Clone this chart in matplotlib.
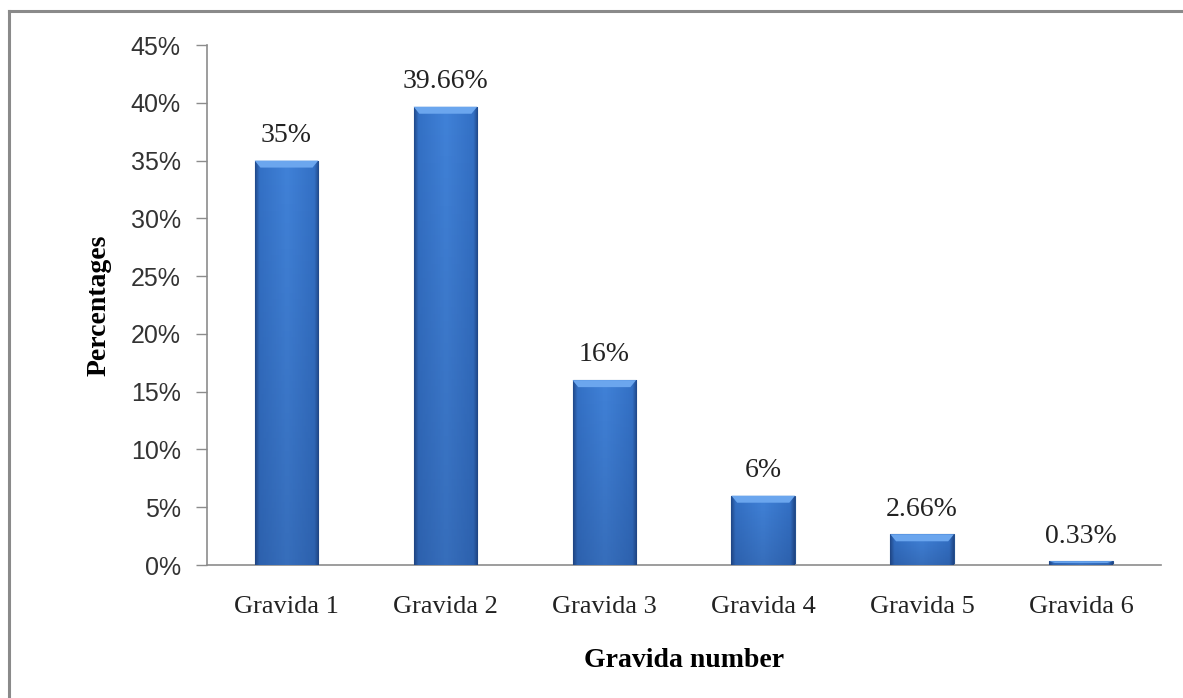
import numpy as np
import matplotlib.pyplot as plt
from matplotlib.patches import Polygon
from matplotlib.lines import Line2D
from matplotlib.colors import LinearSegmentedColormap
from matplotlib.ticker import FuncFormatter

categories = ['Gravida 1', 'Gravida 2', 'Gravida 3', 'Gravida 4', 'Gravida 5', 'Gravida 6']
values = [35, 39.66, 16, 6, 2.66, 0.33]
labels = ['35%', '39.66%', '16%', '6%', '2.66%', '0.33%']

fig = plt.figure(figsize=(11.83, 6.98), dpi=100)
ax = fig.add_axes([0.175, 0.1905, 0.806, 0.745])

# frame (only top and left edges show in the picture)
fx, fy = 8.5 / 1183, 1 - 11 / 698
fig.add_artist(Line2D([fx, fx], [0, fy], transform=fig.transFigure, color='#8a8a8a', lw=2.2))
fig.add_artist(Line2D([fx, 1], [fy, fy], transform=fig.transFigure, color='#8a8a8a', lw=2.2))

x = np.arange(len(categories))
bars = ax.bar(x, values, width=0.4, color='#3d7bd0', edgecolor='#24508f', linewidth=0.8, zorder=2)

# shading: dark side strips, flat middle, a bit darker near the base
cmap = LinearSegmentedColormap.from_list(
    'bar', [(0, '#21498a'), (0.07, '#3471c6'), (0.5, '#4182d8'), (0.93, '#3471c6'), (1, '#21498a')])
grad = np.linspace(0, 1, 256).reshape(1, -1)
shade = np.zeros((64, 1, 4))
shade[..., :3] = [0.1, 0.2, 0.4]
shade[..., 3] = 0.25 * np.linspace(0, 1, 64).reshape(-1, 1)
ppd = 520 / 45.0  # pixels per data unit on y
for b in bars:
    x0, w, h = b.get_x(), b.get_width(), b.get_height()
    im = ax.imshow(grad, cmap=cmap, aspect='auto', extent=[x0, x0 + w, 0, h], zorder=3)
    im.set_clip_path(b)
    im2 = ax.imshow(shade, aspect='auto', extent=[x0, x0 + w, 0, h], zorder=3.5, origin='upper')
    im2.set_clip_path(b)
    # top bevel
    cap = min(7 / ppd, h * 0.45)
    dx = w * 0.09
    ax.add_patch(Polygon([(x0, h), (x0 + w, h), (x0 + w - dx, h - cap), (x0 + dx, h - cap)],
                         closed=True, facecolor='#6ba6ee', edgecolor='none', zorder=4))

for xi, v, lab in zip(x, values, labels):
    ax.text(xi, v + 1.1, lab, ha='center', va='bottom', family='Liberation Serif',
            fontsize=20, color='#222222')

ax.set_xlim(-0.5, len(categories) - 0.5)
ax.set_ylim(0, 45)
ax.set_yticks(np.arange(0, 46, 5))
ax.yaxis.set_major_formatter(FuncFormatter(lambda v, p: f'{v:.0f}%'))
ax.set_xticks(x)
ax.set_xticklabels(categories, family='Liberation Serif', fontsize=19, color='#222222')

for lab in ax.get_yticklabels():
    lab.set_family('Liberation Sans')
    lab.set_fontsize(18)
    lab.set_color('#333333')

ax.tick_params(axis='x', length=0, pad=22)
ax.tick_params(axis='y', direction='out', length=8, width=1, color='#8c8c8c', pad=11)

for s in ['top', 'right']:
    ax.spines[s].set_visible(False)
for s in ['left', 'bottom']:
    ax.spines[s].set_color('#8c8c8c')
    ax.spines[s].set_linewidth(1.2)

ax.set_xlabel('Gravida number', family='Liberation Serif', fontsize=20, fontweight='bold', labelpad=22)
ax.set_ylabel('Percentages', family='Liberation Serif', fontsize=20, fontweight='bold', labelpad=14)

fig.savefig('out.png', dpi=100)
